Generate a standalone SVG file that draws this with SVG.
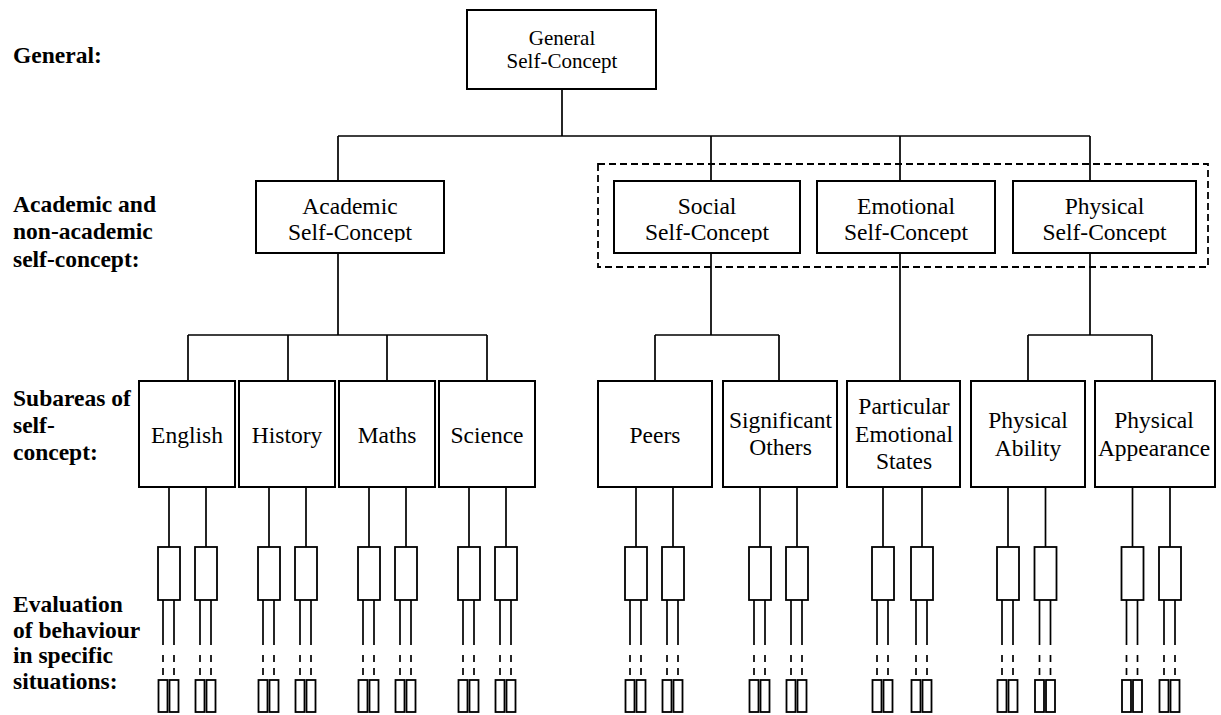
<svg xmlns="http://www.w3.org/2000/svg" xmlns:xlink="http://www.w3.org/1999/xlink" width="1221" height="715" viewBox="0 0 1221 715">
  <style>
    .box { fill: #fff; stroke: #000; stroke-width: 2; }
    .sbox { fill: #fff; stroke: #000; stroke-width: 1.8; }
    .wire { fill: none; stroke: #000; stroke-width: 1.7; }
    text { font-family: 'Liberation Serif', 'DejaVu Serif', serif; fill: #000; }
    .lab { font-weight: bold; font-size: 23.5px; }
    .t { font-size: 23.5px; text-anchor: middle; }
    .t0 { font-size: 21px; text-anchor: middle; }
  </style>
  <defs>
    <!-- second-level captions are cut off just under the baseline -->
    <clipPath id="clipL2" clipPathUnits="userSpaceOnUse">
      <rect x="0" y="181" width="1221" height="61"/>
    </clipPath>
    <!-- one evaluation stack: box, leads, dotted continuation, two situation boxes -->
    <g id="evalUnit">
      <rect class="sbox" x="-11" y="547" width="22" height="53"/>
      <path class="wire" d="M-6 600V645M5 600V645M-6 655V662M5 655V662M-6 668V675M5 668V675"/>
      <rect class="sbox" x="-10.5" y="680" width="9" height="32"/>
      <rect class="sbox" x="0.5" y="680" width="9" height="32"/>
    </g>
  </defs>
  <rect width="1221" height="715" fill="#fff"/>

  <!-- level labels -->
  <g id="labels" font-family="Liberation Serif, DejaVu Serif, serif">
    <text class="lab" x="13" y="63">General:</text>
    <text class="lab" x="13" y="212">Academic and</text>
    <text class="lab" x="13" y="239">non-academic</text>
    <text class="lab" x="13" y="266.5">self-concept:</text>
    <text class="lab" x="13" y="406">Subareas of</text>
    <text class="lab" x="13" y="433">self-</text>
    <text class="lab" x="13" y="460">concept:</text>
    <text class="lab" x="13" y="612">Evaluation</text>
    <text class="lab" x="13" y="637.5">of behaviour</text>
    <text class="lab" x="13" y="663">in specific</text>
    <text class="lab" x="13" y="688.5">situations:</text>
  </g>

  <!-- connectors -->
  <g id="connectors">
    <path class="wire" d="M562 89V136M338 136H1090M338 136V181M711 136V181M900 136V181M1090 136V181"/>
    <path class="wire" d="M338 253V335M188 335H487M188 335V381M288 335V381M387 335V381M487 335V381"/>
    <path class="wire" d="M711 253V335M655 335H779M655 335V381M779 335V381"/>
    <path class="wire" d="M900 253V381"/>
    <path class="wire" d="M1090 253V335M1028 335H1152M1028 335V381M1152 335V381"/>
    <path class="wire" d="M169 487V547M206 487V547M269 487V547M306 487V547M369 487V547M406 487V547M469 487V547M506 487V547"/>
    <path class="wire" d="M636 487V547M673 487V547M760 487V547M797 487V547M883 487V547M922 487V547M1008 487V547M1045.5 487V547M1132.5 487V547M1170 487V547"/>
  </g>

  <!-- non-academic grouping -->
  <rect id="nonAcademicGroup" x="598" y="164" width="610" height="103" fill="none" stroke="#000" stroke-width="1.8" stroke-dasharray="7 4"/>

  <g id="general">
    <rect class="box" x="467" y="10" width="189" height="79"/>
    <text class="t0" x="562" y="45">General</text>
    <text class="t0" x="562" y="68">Self-Concept</text>
  </g>

  <g id="academic">
    <rect class="box" x="256" y="181" width="188" height="72"/>
    <g clip-path="url(#clipL2)">
      <text class="t" x="350" y="214">Academic</text>
      <text class="t" x="350" y="240">Self-Concept</text>
    </g>
  </g>
  <g id="social">
    <rect class="box" x="614" y="181" width="186" height="72"/>
    <g clip-path="url(#clipL2)">
      <text class="t" x="707" y="214">Social</text>
      <text class="t" x="707" y="240">Self-Concept</text>
    </g>
  </g>
  <g id="emotional">
    <rect class="box" x="817" y="181" width="178" height="72"/>
    <g clip-path="url(#clipL2)">
      <text class="t" x="906" y="214">Emotional</text>
      <text class="t" x="906" y="240">Self-Concept</text>
    </g>
  </g>
  <g id="physical">
    <rect class="box" x="1013" y="181" width="183" height="72"/>
    <g clip-path="url(#clipL2)">
      <text class="t" x="1104.5" y="214">Physical</text>
      <text class="t" x="1104.5" y="240">Self-Concept</text>
    </g>
  </g>

  <g id="english">
    <rect class="box" x="139" y="381" width="96" height="106"/>
    <text class="t" x="187" y="443">English</text>
  </g>
  <g id="history">
    <rect class="box" x="239" y="381" width="96" height="106"/>
    <text class="t" x="287" y="443">History</text>
  </g>
  <g id="maths">
    <rect class="box" x="339" y="381" width="96" height="106"/>
    <text class="t" x="387" y="443">Maths</text>
  </g>
  <g id="science">
    <rect class="box" x="439" y="381" width="96" height="106"/>
    <text class="t" x="487" y="443">Science</text>
  </g>
  <g id="peers">
    <rect class="box" x="598" y="381" width="114" height="106"/>
    <text class="t" x="655" y="443">Peers</text>
  </g>
  <g id="significantOthers">
    <rect class="box" x="723" y="381" width="114" height="106"/>
    <text class="t" x="780.5" y="428">Significant</text>
    <text class="t" x="780.5" y="455">Others</text>
  </g>
  <g id="emotionalStates">
    <rect class="box" x="847" y="381" width="113" height="106"/>
    <text class="t" x="904" y="414">Particular</text>
    <text class="t" x="904" y="441.5">Emotional</text>
    <text class="t" x="904" y="469">States</text>
  </g>
  <g id="physicalAbility">
    <rect class="box" x="971" y="381" width="114" height="106"/>
    <text class="t" x="1028" y="428">Physical</text>
    <text class="t" x="1028" y="456">Ability</text>
  </g>
  <g id="physicalAppearance">
    <rect class="box" x="1095" y="381" width="120" height="106"/>
    <text class="t" x="1154" y="428">Physical</text>
    <text class="t" x="1154" y="456">Appearance</text>
  </g>

  <!-- behaviour evaluations in specific situations -->
  <g id="evaluations">
    <use href="#evalUnit" x="169"/>
    <use href="#evalUnit" x="206"/>
    <use href="#evalUnit" x="269"/>
    <use href="#evalUnit" x="306"/>
    <use href="#evalUnit" x="369"/>
    <use href="#evalUnit" x="406"/>
    <use href="#evalUnit" x="469"/>
    <use href="#evalUnit" x="506"/>
    <use href="#evalUnit" x="636"/>
    <use href="#evalUnit" x="673"/>
    <use href="#evalUnit" x="760"/>
    <use href="#evalUnit" x="797"/>
    <use href="#evalUnit" x="883"/>
    <use href="#evalUnit" x="922"/>
    <use href="#evalUnit" x="1008"/>
    <use href="#evalUnit" x="1045.5"/>
    <use href="#evalUnit" x="1132.5"/>
    <use href="#evalUnit" x="1170"/>
  </g>
</svg>
